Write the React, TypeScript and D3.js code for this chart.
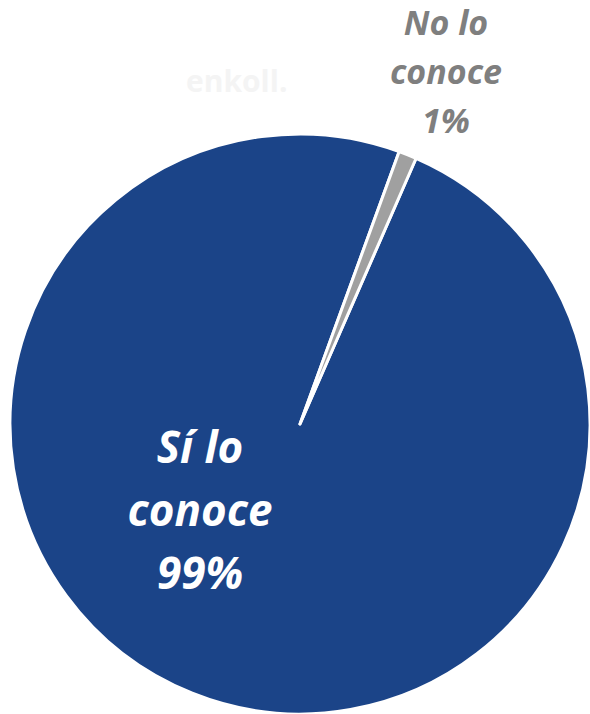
import { useEffect, useRef } from "react";
import * as d3 from "d3";

const categories = ["Sí lo conoce", "No lo conoce"];
const values = [99, 1];
const labelLines = [
  ["Sí lo", "conoce", "99%"],
  ["No lo", "conoce", "1%"],
];
const colors = ["#1b4488", "#a0a0a0"];

const W = 590;
const H = 714;

export default function App() {
  const svgRef = useRef<SVGSVGElement | null>(null);

  useEffect(() => {
    if (!svgRef.current) return;
    const svg = d3.select(svgRef.current);
    svg.selectAll("*").remove();

    // faint watermark in the white area
    svg.append("text")
      .attr("x", 186).attr("y", 92)
      .attr("fill", "#f4f4f4")
      .style("font", "bold 30px 'Open Sans', sans-serif")
      .text("enkoll.");

    const cx = 300, cy = 424, r = 290;
    const data = categories.map((c, i) => ({ name: c, value: values[i], i }));

    // first slice starts just past the gray one (~23.6deg)
    const start = (23.6 * Math.PI) / 180;
    const pie = d3.pie<any>().sort(null).value((d) => d.value)
      .startAngle(start).endAngle(start + 2 * Math.PI);
    const arc = d3.arc<any>().innerRadius(0).outerRadius(r);

    const g = svg.append("g").attr("transform", `translate(${cx},${cy})`);
    g.selectAll("path")
      .data(pie(data))
      .enter()
      .append("path")
      .attr("d", arc)
      .attr("fill", (d) => colors[d.data.i])
      .attr("stroke", "#ffffff")
      .attr("stroke-width", 3)
      .attr("stroke-linejoin", "round");

    // labels
    const lab = [
      { x: 200, y: 463, size: 44, lh: 63, color: "#ffffff" },
      { x: 446, y: 35, size: 34, lh: 49, color: "#7f7f7f" },
    ];
    lab.forEach((l, i) => {
      const t = svg.append("text")
        .attr("text-anchor", "middle")
        .attr("fill", l.color)
        .style("font", `italic bold ${l.size}px 'Open Sans', sans-serif`);
      labelLines[i].forEach((line, k) =>
        t.append("tspan").attr("x", l.x).attr("y", l.y + k * l.lh).text(line)
      );
    });
  }, []);

  return (
    <div style={{ position: "absolute", left: 0, top: 0, width: W, height: H, background: "#fff" }}>
      <svg ref={svgRef} width={W} height={H} style={{ display: "block" }} />
    </div>
  );
}
